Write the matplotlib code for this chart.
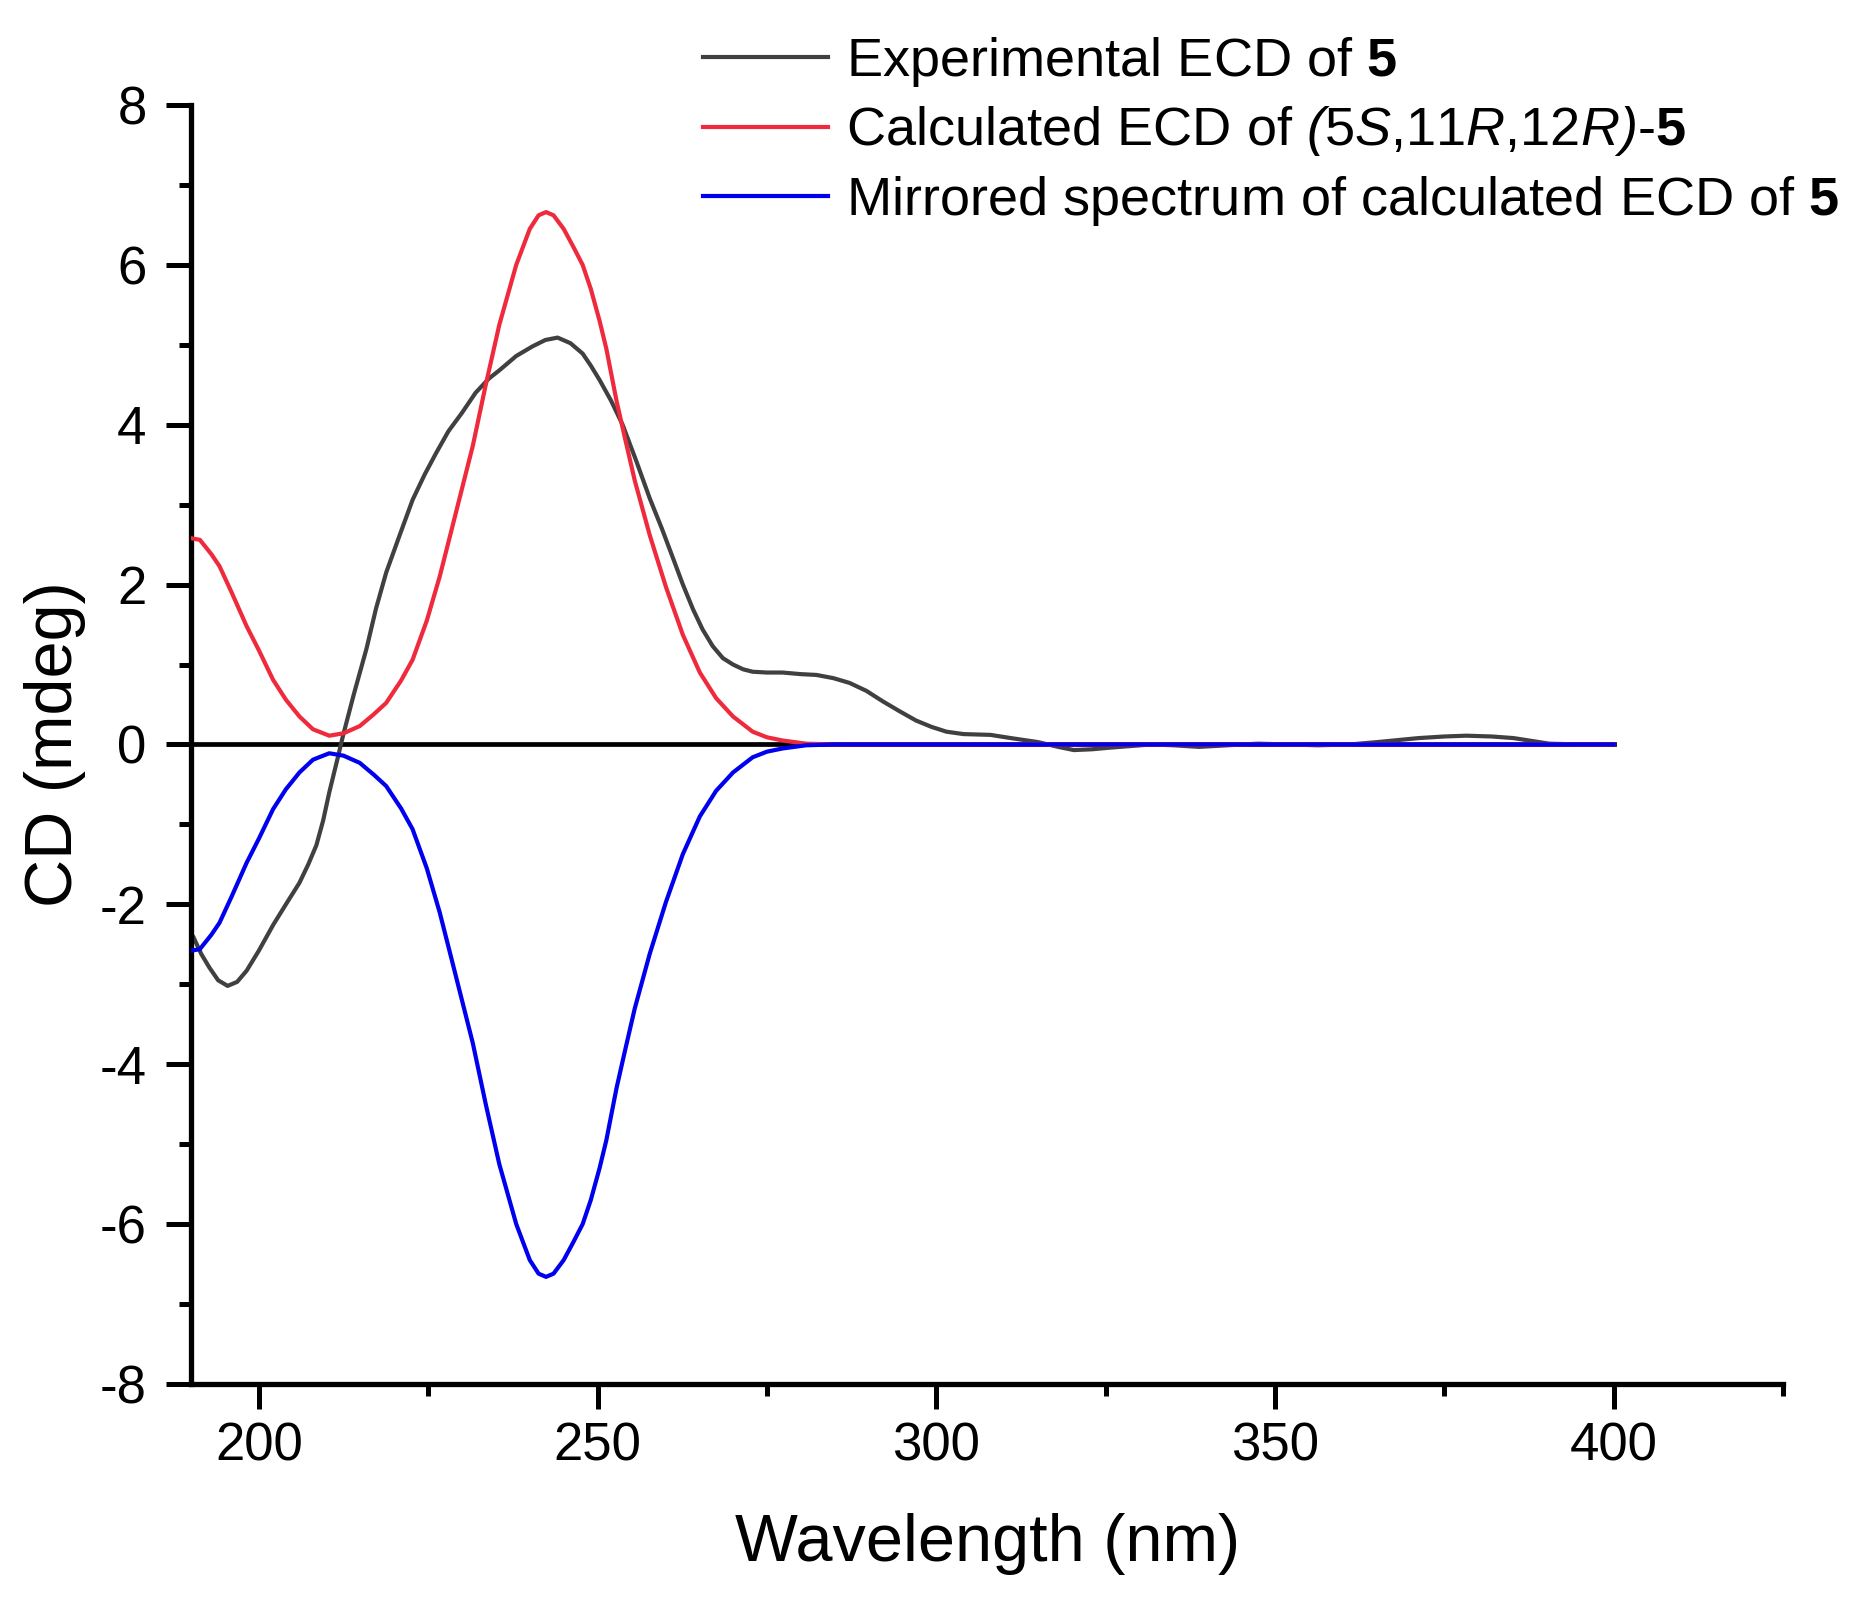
import matplotlib
matplotlib.use('Agg')
import matplotlib.pyplot as plt
from matplotlib.ticker import MultipleLocator

plt.rcParams['font.family'] = ['Liberation Sans', 'DejaVu Sans']
plt.rcParams['mathtext.fontset'] = 'custom'
plt.rcParams['mathtext.rm'] = 'Liberation Sans'
plt.rcParams['mathtext.it'] = 'Liberation Sans:italic'
plt.rcParams['mathtext.sf'] = 'Liberation Sans:italic'
plt.rcParams['mathtext.bf'] = 'Liberation Sans:bold'
plt.rcParams['axes.unicode_minus'] = False

# experimental ECD of 5
exp_wl = [190, 190.3, 191.5, 192.7, 194, 195.4, 196.8, 198.2, 200, 202.1, 204, 206,
          207.3, 208.5, 209.5, 210.4, 211.7, 212.4, 214, 215.9, 217.3, 218.8, 220.8,
          222.7, 224.5, 226.2, 228, 230, 232, 234, 235.5, 238, 240.4, 242.3, 244.1,
          246, 247.8, 249, 250.3, 252, 253.7, 255.7, 257.7, 259.5, 261.1, 262.6,
          264.1, 265.5, 267, 268.5, 270, 271.5, 272.9, 275, 277.3, 280, 282.3, 284.8,
          287.2, 289.7, 292.1, 294.5, 297, 299.3, 301.5, 304, 308, 311, 315, 318,
          320.3, 323, 325.6, 331.7, 335, 338.8, 343, 347.5, 352, 356.3, 361, 365.1,
          371.2, 375, 378.2, 382, 385.2, 390.5, 395, 400]
exp_cd = [-2.38, -2.40, -2.62, -2.79, -2.95, -3.02, -2.97, -2.83, -2.58, -2.26, -2.0,
          -1.73, -1.5, -1.26, -0.95, -0.6, -0.15, 0.1, 0.62, 1.2, 1.7, 2.15, 2.62,
          3.06, 3.38, 3.65, 3.92, 4.15, 4.40, 4.58, 4.68, 4.86, 4.98, 5.06, 5.09,
          5.02, 4.89, 4.74, 4.56, 4.30, 4.0, 3.55, 3.08, 2.70, 2.34, 2.0, 1.69, 1.44,
          1.23, 1.08, 1.0, 0.94, 0.91, 0.90, 0.90, 0.88, 0.87, 0.83, 0.77, 0.67,
          0.54, 0.42, 0.30, 0.22, 0.16, 0.13, 0.12, 0.08, 0.03, -0.03, -0.07, -0.06,
          -0.04, 0.0, -0.01, -0.03, -0.01, 0.01, 0.0, -0.01, 0.0, 0.03, 0.08, 0.10,
          0.11, 0.10, 0.08, 0.01, 0.0, 0.0]

# calculated ECD of (5S,11R,12R)-5
calc_wl = [190, 191.3, 193, 194.2, 196, 198.2, 200, 202.1, 204, 206, 208, 210.4,
           212.5, 214.9, 217, 218.8, 221, 222.7, 224.8, 226.7, 228.5, 231.6, 233.5,
           235.5, 236.5, 238, 240, 241.3, 242.4, 243.5, 245, 246.4, 247.8, 249,
           250.3, 251.3, 252.8, 254, 255.5, 257.7, 260.1, 262.6, 265.1, 267.5, 270,
           272.9, 275, 277.3, 280.8, 285, 300, 350, 400]
calc_cd = [2.58, 2.56, 2.38, 2.23, 1.9, 1.48, 1.18, 0.81, 0.56, 0.35, 0.19, 0.11,
           0.14, 0.23, 0.38, 0.52, 0.80, 1.06, 1.55, 2.1, 2.7, 3.74, 4.5, 5.25,
           5.55, 6.0, 6.45, 6.62, 6.66, 6.62, 6.45, 6.23, 6.0, 5.7, 5.3, 4.95, 4.3,
           3.85, 3.3, 2.62, 1.97, 1.37, 0.90, 0.58, 0.35, 0.16, 0.09, 0.05, 0.01,
           0.0, 0.0, 0.0, 0.0]

# mirrored spectrum of calculated ECD of 5
mirr_wl = calc_wl
mirr_cd = [-2.58, -2.56, -2.38, -2.23, -1.9, -1.48, -1.18, -0.81, -0.56, -0.35, -0.19,
           -0.11, -0.14, -0.23, -0.38, -0.52, -0.80, -1.06, -1.55, -2.1, -2.7, -3.74,
           -4.5, -5.25, -5.55, -6.0, -6.45, -6.62, -6.66, -6.62, -6.45, -6.23, -6.0,
           -5.7, -5.3, -4.95, -4.3, -3.85, -3.3, -2.62, -1.97, -1.37, -0.90, -0.58,
           -0.35, -0.16, -0.09, -0.05, -0.01, 0.0, 0.0, 0.0, 0.0]

base_wl = [190, 400]
base_cd = [0, 0]

labels = [r'Experimental ECD of $\mathbf{5}$',
          r'Calculated ECD of $\mathsf{(}$5$\mathsf{S}$,11$\mathsf{R}$,12$\mathsf{R)}$-$\mathbf{5}$',
          r'Mirrored spectrum of calculated ECD of $\mathbf{5}$']

fig = plt.figure(figsize=(18.64, 16.05), dpi=100)
ax = fig.add_axes([0.1025, 0.1377, 0.8541, 0.7969])

ax.plot(base_wl, base_cd, color='black', lw=3.4, zorder=1)
l1, = ax.plot(exp_wl, exp_cd, color='#404040', lw=3.0, zorder=2)
l2, = ax.plot(calc_wl, calc_cd, color='#ee2a3c', lw=3.0, zorder=3)
l3, = ax.plot(mirr_wl, mirr_cd, color='#0000ee', lw=3.0, zorder=4)

ax.set_xlim(190, 425)
ax.set_ylim(-8, 8)
ax.xaxis.set_major_locator(MultipleLocator(50))
ax.xaxis.set_minor_locator(MultipleLocator(25))
ax.yaxis.set_major_locator(MultipleLocator(2))
ax.yaxis.set_minor_locator(MultipleLocator(1))

for side in ['top', 'right']:
    ax.spines[side].set_visible(False)
for side in ['left', 'bottom']:
    ax.spines[side].set_linewidth(3.8)

ax.tick_params(which='major', length=18, width=3.6, labelsize=38)
ax.tick_params(which='minor', length=8.5, width=3.6)
ax.tick_params(axis='y', which='major', pad=14)
ax.tick_params(axis='x', which='major', pad=9)

ax.set_xlabel('Wavelength (nm)', fontsize=48, labelpad=30)
ax.set_ylabel('CD (mdeg)', fontsize=48, labelpad=10)

fig.legend([l1, l2, l3], labels, loc='upper left',
           bbox_to_anchor=(0.3772, 0.978), frameon=False, fontsize=39,
           borderpad=0, borderaxespad=0, handlelength=2.3,
           handletextpad=0.33, labelspacing=0.28)

fig.savefig('out.png', dpi=100)
